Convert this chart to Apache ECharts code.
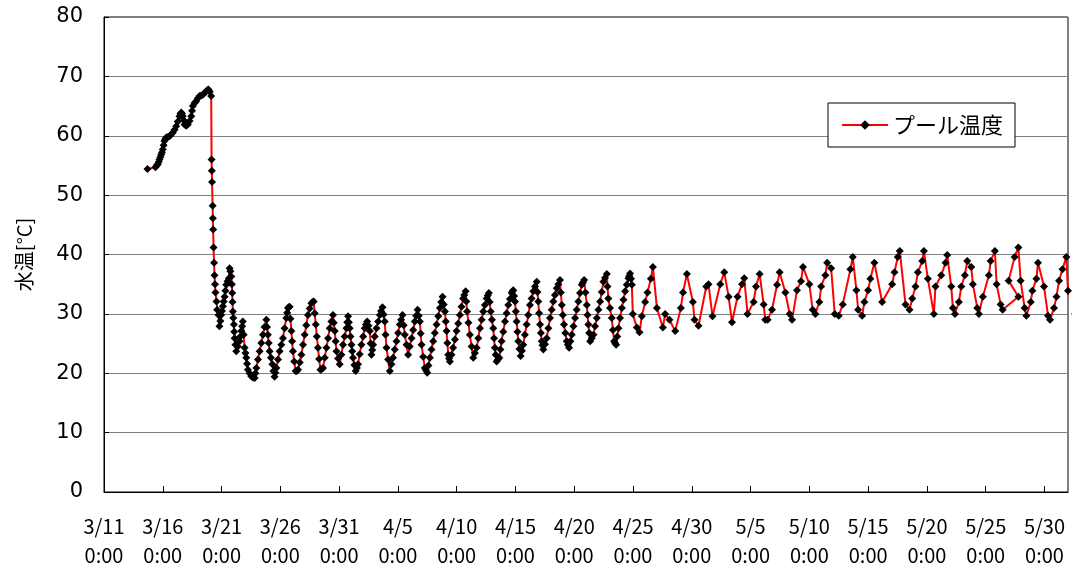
<!DOCTYPE html>
<html>
<head>
<meta charset="utf-8">
<script src="https://cdn.jsdelivr.net/npm/echarts@6/dist/echarts.min.js"></script>
<style>
html,body{margin:0;padding:0;background:#fff;}
#chart{width:1072px;height:570px;}
</style>
</head>
<body>
<div id="chart"></div>
<script>
// [days since 3/11 0:00, pool water temperature °C]
const riseSegment = [
  [3.70,54.4],[4.38,54.7],[4.48,55.0],[4.57,55.2],[4.65,55.6],[4.72,56.0],[4.79,56.4],[4.86,56.8],[4.93,57.2],[5.00,57.7],
  [5.07,58.4],[5.14,59.1],[5.21,59.4],[5.29,59.7],[5.43,59.8],[5.57,59.9],[5.71,60.2],[5.85,60.5],[6.00,61.0],[6.14,61.6],
  [6.28,62.4],[6.42,63.3],[6.50,63.7],[6.57,63.9],[6.63,63.7],[6.70,63.3],[6.78,62.6],[6.85,61.9],[6.99,61.7],[7.13,61.9],
  [7.28,62.5],[7.42,63.3],[7.49,64.2],[7.56,65.0],[7.70,65.5],[7.84,65.8],[7.98,66.3],[8.13,66.7],[8.27,66.8],[8.41,66.9],
  [8.55,67.2],[8.70,67.5],[8.80,67.7],[8.89,67.8],[9.00,67.4],[9.12,66.7]
];
const dropSegment = [
  [9.15,56.0],[9.17,54.1],[9.19,52.2],[9.24,48.2],[9.26,46.1],[9.28,44.2],[9.32,41.2],[9.36,38.6],[9.40,36.5],[9.44,35.0],
  [9.48,33.6],[9.57,32.1],[9.63,30.7],[9.74,29.8],[9.82,27.9]
];
const coolingSegment = [
  [9.90,28.8],[9.97,29.8],[10.04,30.5],[10.11,31.3],[10.18,32.1],[10.26,32.9],[10.33,33.9],[10.40,34.9],[10.51,35.5],[10.62,36.0],
  [10.68,37.7],[10.75,37.2],[10.83,36.3],[10.87,35.0],[10.91,33.5],[10.93,32.0],[10.96,30.4],[11.00,29.3],[11.05,28.2],[11.08,27.0],
  [11.11,25.9],[11.18,24.8],[11.25,23.7],[11.39,24.5],[11.53,25.4],[11.60,26.2],[11.68,27.1],[11.75,27.9],[11.81,28.7],[11.88,26.5],
  [11.96,24.3],[12.03,23.4],[12.10,22.6],[12.17,21.6],[12.24,20.6],[12.38,20.0],[12.53,19.5],[12.67,19.3],[12.81,19.2],[12.88,20.0],
  [12.96,20.9],[13.10,22.3],[13.24,23.7],[13.38,25.1],[13.52,26.5],[13.66,27.8],[13.81,29.0],[13.87,27.8],[13.94,26.5],[14.01,25.1],
  [14.09,23.7],[14.20,22.6],[14.32,21.5],[14.41,20.4],[14.51,19.4],[14.58,20.1],[14.66,20.9],[14.80,22.3],[14.94,23.7],[15.08,24.8],
  [15.22,25.9],[15.36,27.6],[15.51,29.3],[15.58,30.2],[15.65,31.0],[15.72,31.1],[15.79,31.2],[15.86,29.2],[15.94,27.1],[16.00,25.4],
  [16.07,23.7],[16.18,22.0],[16.30,20.4],[16.40,20.4],[16.50,20.6],[16.65,21.8],[16.79,23.1],[16.93,24.8],[17.07,26.5],[17.21,28.1],
  [17.35,29.8],[17.50,30.9],[17.64,31.8],[17.74,32.0],[17.84,32.1],[17.92,30.1],[18.01,28.2],[18.10,26.2],[18.20,24.3],[18.30,22.4],
  [18.41,20.6],[18.52,20.7],[18.63,20.9],[18.78,22.6],[18.92,24.3],[19.06,25.9],[19.20,27.6],[19.34,28.7],[19.48,29.8],[19.55,28.5],
  [19.63,27.1],[19.70,25.4],[19.77,23.7],[19.91,22.5],[20.05,21.5],[20.19,23.1],[20.33,24.8],[20.47,26.2],[20.62,27.6],[20.69,28.6],
  [20.76,29.6],[20.83,28.6],[20.90,27.6],[20.97,26.2],[21.05,24.8],[21.11,23.7],[21.18,22.6],[21.30,21.4],[21.41,20.4],[21.51,20.9],
  [21.61,21.5],[21.75,23.2],[21.90,24.8],[22.04,26.2],[22.18,27.6],[22.28,28.2],[22.38,28.7],[22.50,28.0],[22.61,27.1],[22.68,25.0],
  [22.75,23.1],[22.82,23.9],[22.89,24.8],[23.03,26.2],[23.18,27.6],[23.32,28.7],[23.46,29.8],[23.57,30.5],[23.69,31.1],[23.78,29.9],
  [23.88,28.7],[23.95,26.5],[24.03,24.3],[24.17,22.3],[24.31,20.4],[24.45,21.5],[24.59,22.6],[24.73,24.0],[24.88,25.4],[25.02,26.8],
  [25.16,28.2],[25.27,29.0],[25.39,29.8],[25.49,28.1],[25.59,26.5],[25.73,24.8],[25.87,23.1],[26.01,24.5],[26.16,25.9],[26.30,27.3],
  [26.44,28.7],[26.55,29.7],[26.67,30.7],[26.77,29.7],[26.87,28.7],[26.94,26.7],[27.01,24.8],[27.15,22.8],[27.29,20.9],[27.39,20.5],
  [27.49,20.1],[27.60,21.3],[27.72,22.6],[27.86,24.0],[28.00,25.4],[28.14,26.8],[28.29,28.2],[28.43,29.6],[28.57,31.0],[28.68,32.0],
  [28.80,32.9],[28.90,31.6],[29.00,30.4],[29.07,28.7],[29.14,27.1],[29.21,25.1],[29.28,23.1],[29.35,22.5],[29.42,22.0],[29.56,23.1],
  [29.70,24.3],[29.85,25.7],[29.99,27.1],[30.13,28.4],[30.27,29.8],[30.41,31.2],[30.55,32.6],[30.65,33.2],[30.76,33.8],[30.82,32.1],
  [30.89,30.4],[31.00,28.5],[31.12,26.5],[31.27,24.5],[31.41,22.6],[31.55,23.4],[31.70,24.3],[31.84,25.9],[31.98,27.6],[32.12,29.0],
  [32.26,30.4],[32.40,31.5],[32.55,32.6],[32.64,33.1],[32.74,33.5],[32.81,32.0],[32.89,30.4],[33.00,29.0],[33.11,27.6],[33.18,25.9],
  [33.25,24.3],[33.32,23.1],[33.40,22.0],[33.51,22.3],[33.62,22.6],[33.72,24.0],[33.82,25.4],[33.96,27.0],[34.11,28.7],[34.25,30.1],
  [34.39,31.5],[34.53,32.5],[34.68,33.5],[34.74,33.8],[34.81,34.0],[34.88,33.0],[34.96,32.1],[35.03,30.4],[35.10,28.7],[35.17,27.0],
  [35.24,25.4],[35.34,24.1],[35.44,22.9],[35.55,23.8],[35.66,24.8],[35.80,26.5],[35.95,28.2],[36.09,29.8],[36.23,31.5],[36.37,32.6],
  [36.52,33.8],[36.66,34.6],[36.81,35.4],[36.87,33.7],[36.94,32.1],[37.01,30.1],[37.09,28.2],[37.16,26.8],[37.23,25.4],[37.30,24.7],
  [37.37,24.0],[37.51,24.9],[37.66,25.9],[37.80,27.6],[37.94,29.3],[38.08,30.7],[38.22,32.1],[38.36,33.2],[38.51,34.3],[38.65,35.0],
  [38.79,35.7],[38.86,33.6],[38.94,31.5],[39.03,29.8],[39.13,28.2],[39.24,26.8],[39.36,25.4],[39.46,24.8],[39.56,24.3],[39.67,25.4],
  [39.79,26.5],[39.93,27.9],[40.07,29.3],[40.21,30.7],[40.35,32.1],[40.49,33.5],[40.64,34.9],[40.74,35.3],[40.84,35.7],[40.95,33.6],
  [41.07,31.5],[41.13,29.8],[41.20,28.2],[41.27,26.8],[41.35,25.4],[41.49,25.9],[41.63,26.5],[41.77,27.9],[41.92,29.3],[42.06,30.7],
  [42.20,32.1],[42.34,33.7],[42.48,35.4],[42.62,36.1],[42.77,36.7],[42.83,34.6],[42.90,32.6],[43.04,31.0],[43.19,29.3],[43.29,27.3],
  [43.39,25.4],[43.47,25.1],[43.56,24.8],[43.66,26.2],[43.76,27.6],[43.90,29.3],[44.05,31.0],[44.19,32.4],[44.33,33.8],[44.47,34.9],
  [44.61,36.0],[44.68,36.4],[44.75,36.8],[44.83,35.9],[44.90,34.9]
];
const sparseSegment = [
  [44.98,30.0],[45.32,27.7],[45.55,26.9],[45.75,29.6],[46.03,32.0],[46.23,33.6],[46.52,35.9],[46.69,37.9],[47.03,31.0],[47.54,27.7],
  [47.73,30.0],[48.10,29.0],[48.59,27.1],[49.07,31.0],[49.25,33.6],[49.58,36.7],[50.09,32.0],[50.23,29.0],[50.57,28.0],[51.23,34.6],
  [51.42,35.0],[51.76,29.6],[52.42,35.0],[52.76,37.0],[53.13,32.9],[53.42,28.6],[53.89,32.9],[54.27,35.0],[54.46,36.0],[54.74,30.0],
  [55.26,32.0],[55.46,34.6],[55.77,36.7],[56.11,31.6],[56.25,29.0],[56.45,29.0],[56.82,30.7],[57.25,34.9],[57.47,37.0],[57.96,33.6],
  [58.32,30.0],[58.53,29.0],[58.95,34.0],[59.29,35.5],[59.46,37.9],[60.00,35.0],[60.28,30.7],[60.51,30.0],[60.85,32.0],[61.00,34.6],
  [61.36,36.5],[61.51,38.6],[61.85,37.7],[62.16,30.0],[62.50,29.7],[62.84,31.6],[63.49,37.5],[63.69,39.6],[64.00,34.0],[64.15,30.7],
  [64.49,29.7],[64.68,32.0],[65.00,34.0],[65.19,35.9],[65.53,38.6],[66.19,32.0],[67.04,35.0],[67.24,37.0],[67.52,39.6],[67.69,40.6],
  [68.18,31.6],[68.52,30.7],[68.75,32.6],[69.03,34.6],[69.23,37.0],[69.60,38.9],[69.74,40.6],[70.08,35.9],[70.59,30.0],[70.73,34.6],
  [71.22,36.5],[71.58,38.6],[71.73,39.9],[72.07,34.6],[72.21,31.0],[72.38,30.0],[72.72,32.0],[72.92,34.6],[73.23,36.5],[73.43,38.9],
  [73.77,37.9],[73.91,35.0],[74.28,31.0],[74.42,30.0],[74.76,32.9],[75.27,36.5],[75.42,38.9],[75.78,40.6],[75.93,35.0],[76.27,31.6],
  [76.44,30.7],[77.78,32.9],[76.95,35.6],[77.46,39.6],[77.78,41.2],[77.97,35.6],[78.31,31.0],[78.46,29.7],[78.83,32.0],[78.97,33.9],
  [79.31,35.9],[79.45,38.6],[79.96,34.6],[80.30,29.7],[80.47,29.0],[80.81,31.0],[81.02,32.9],[81.24,35.6],[81.53,37.5],[81.86,39.6],
  [82.00,33.9],[82.60,30.0]
];
const xTickLabels = ['3/11','3/16','3/21','3/26','3/31','4/5','4/10','4/15','4/20','4/25','4/30','5/5','5/10','5/15','5/20','5/25','5/30'];
const xTickTime = '0:00';
const seriesName = 'プール温度';
const yAxisTitle = '水温[°C]';

const seriesData = [].concat(riseSegment, dropSegment, coolingSegment, sparseSegment);

const chart = echarts.init(document.getElementById('chart'), null, {renderer: 'canvas'});
chart.setOption({
  animation: false,
  backgroundColor: '#fff',
  grid: {
    left: 104, right: 4, top: 17, bottom: 75,
    show: true, borderColor: '#000', borderWidth: 1, backgroundColor: 'transparent'
  },
  legend: {
    left: 828, top: 103,
    padding: [11, 12, 11, 13],
    borderColor: '#000', borderWidth: 1, borderRadius: 0,
    backgroundColor: '#fff',
    itemWidth: 46, itemHeight: 12, itemGap: 5,
    textStyle: {fontFamily: '"Noto Sans CJK JP", sans-serif', fontSize: 22, color: '#000'},
    data: [seriesName]
  },
  xAxis: {
    type: 'value', min: 0, max: 82, interval: 5,
    axisLine: {show: true, lineStyle: {color: '#000', width: 1}},
    axisTick: {show: true, inside: true, length: 6, lineStyle: {color: '#000'}},
    splitLine: {show: false},
    axisLabel: {
      showMaxLabel: false,
      margin: 20,
      fontFamily: '"Noto Sans CJK JP", sans-serif', fontSize: 20, color: '#000', lineHeight: 29,
      formatter: v => {
        const idx = Math.round(v / 5);
        return (xTickLabels[idx] || '') + '\n' + xTickTime;
      }
    }
  },
  yAxis: {
    type: 'value', min: 0, max: 80, interval: 10,
    name: yAxisTitle, nameLocation: 'middle', nameGap: 70, nameRotate: 90,
    nameTextStyle: {fontFamily: '"Noto Sans CJK JP", sans-serif', fontSize: 20, color: '#000'},
    axisLine: {show: true, lineStyle: {color: '#000', width: 1}},
    axisTick: {show: true, inside: true, length: 5, lineStyle: {color: '#000'}},
    splitLine: {show: true, lineStyle: {color: '#808080', width: 1}},
    axisLabel: {margin: 21, fontFamily: '"DejaVu Sans", sans-serif', fontSize: 21, color: '#000'}
  },
  series: [{
    name: seriesName,
    type: 'line',
    data: seriesData,
    clip: false,
    symbol: 'diamond',
    symbolSize: 8,
    showAllSymbol: true,
    itemStyle: {color: '#000', borderWidth: 0},
    lineStyle: {color: '#ff0000', width: 2},
    emphasis: {disabled: true}
  }]
});
</script>
</body>
</html>
